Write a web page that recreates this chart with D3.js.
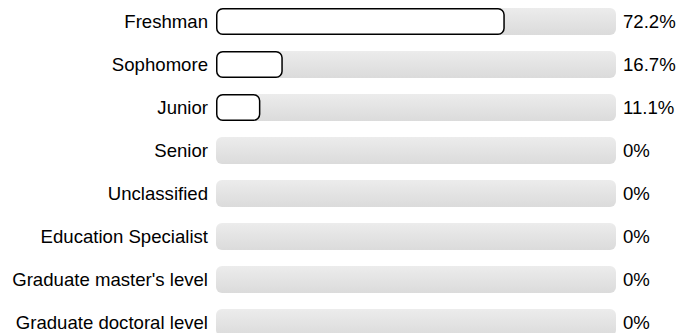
<!DOCTYPE html>
<html><head><meta charset="utf-8">
<script src="https://cdn.jsdelivr.net/npm/d3@7"></script>
<style>body{margin:0;background:#fff;}svg{display:block;}</style>
</head><body>
<script>
const categories = ["Freshman","Sophomore","Junior","Senior","Unclassified","Education Specialist","Graduate master's level","Graduate doctoral level"];
const values = [72.2,16.7,11.1,0,0,0,0,0];
const valueLabels = ["72.2%","16.7%","11.1%","0%","0%","0%","0%","0%"];

const W=682,H=333;
const svg=d3.select("body").append("svg").attr("width",W).attr("height",H);
const defs=svg.append("defs");
const g=defs.append("linearGradient").attr("id","trk").attr("x1",0).attr("y1",0).attr("x2",0).attr("y2",1);
g.append("stop").attr("offset","0%").attr("stop-color","#ececec");
g.append("stop").attr("offset","100%").attr("stop-color","#dbdbdb");

const x=d3.scaleLinear().domain([0,100]).range([216,616]);
const y=d3.scaleBand().domain(categories).range([8,336]).paddingInner(16/43).paddingOuter(0);
const bh=y.bandwidth();
const font="Liberation Sans, Arial, sans-serif";
const rows=svg.selectAll("g.row").data(categories).join("g").attr("class","row");
rows.append("rect").attr("x",x(0)).attr("y",d=>y(d)).attr("width",x(100)-x(0)).attr("height",bh)
  .attr("rx",6).attr("fill","url(#trk)");
rows.filter((d,i)=>values[i]>0).append("rect")
  .attr("x",x(0)+0.75).attr("y",d=>y(d)+0.75)
  .attr("width",(d)=>x(values[categories.indexOf(d)])-x(0)-1.5).attr("height",bh-1.5)
  .attr("rx",6).attr("fill","#fff").attr("stroke","#000").attr("stroke-width",1.5);
rows.append("text").attr("x",208).attr("y",d=>y(d)+bh/2).attr("dy","0.35em")
  .attr("text-anchor","end").attr("font-family",font).attr("font-size",18.6).attr("fill","#000")
  .text(d=>d);
rows.append("text").attr("x",623).attr("y",d=>y(d)+bh/2).attr("dy","0.35em")
  .attr("font-family",font).attr("font-size",18.6).attr("fill","#000")
  .text((d,i)=>valueLabels[i]);
</script>
</body></html>
